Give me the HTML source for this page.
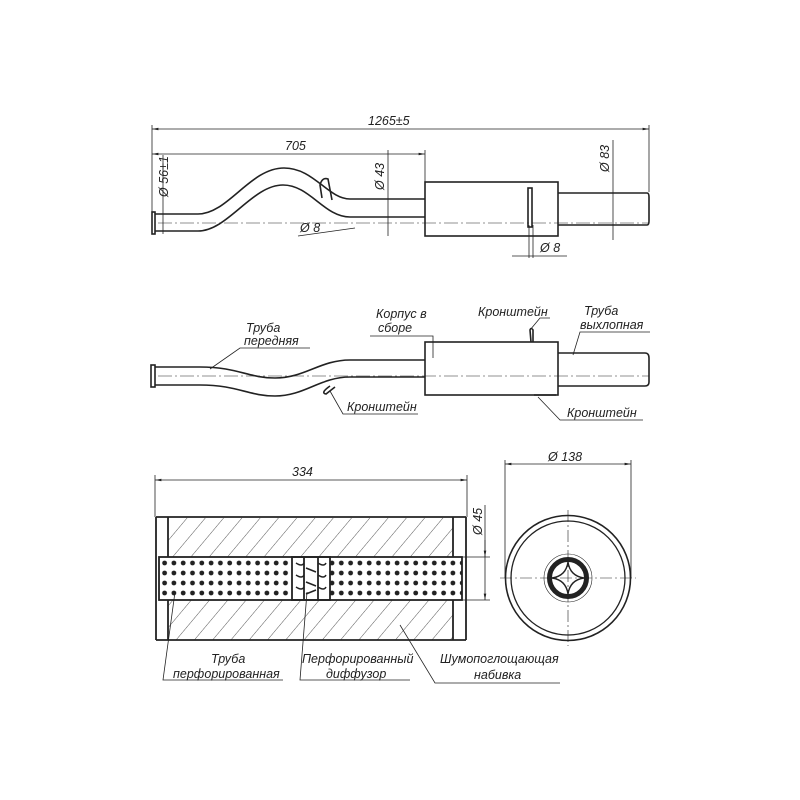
<!DOCTYPE html>
<html><head><meta charset="utf-8"><style>
html,body{margin:0;padding:0;background:#fff;}
svg{display:block;}
text{font-family:"Liberation Sans",sans-serif;font-style:italic;font-size:12.5px;fill:#222;}
</style></head><body>
<svg width="800" height="800" viewBox="0 0 800 800" xmlns="http://www.w3.org/2000/svg">
<defs>
<marker id="a" viewBox="0 0 10 10" refX="10" refY="5" markerWidth="8" markerHeight="8" orient="auto-start-reverse"><path d="M0,3 L10,5 L0,7 z" fill="#222"/></marker>
<pattern id="h" patternUnits="userSpaceOnUse" width="14" height="14" patternTransform="rotate(40)"><line x1="0" y1="0" x2="0" y2="14" stroke="#444" stroke-width="0.9"/></pattern>
<pattern id="d" patternUnits="userSpaceOnUse" x="160" y="558" width="9.3" height="10"><circle cx="4.6" cy="5" r="2.4" fill="#222"/></pattern>
</defs>
<g stroke="#222" fill="none" stroke-width="0.8">
<!-- TOP -->
<line x1="152" y1="125" x2="152" y2="212"/><line x1="649" y1="125" x2="649" y2="192"/>
<line x1="152" y1="129" x2="649" y2="129" marker-start="url(#a)" marker-end="url(#a)"/>
<line x1="425" y1="150" x2="425" y2="182"/>
<line x1="152" y1="154" x2="425" y2="154" marker-start="url(#a)" marker-end="url(#a)"/>
<line x1="163" y1="155" x2="163" y2="234"/>
<line x1="388" y1="150" x2="388" y2="236"/>
<line x1="613" y1="140" x2="613" y2="240"/>
<line x1="298" y1="236" x2="355" y2="228"/>
<line x1="512" y1="256" x2="567" y2="256"/><line x1="529" y1="225" x2="529" y2="258"/><line x1="533" y1="225" x2="533" y2="258"/>
<g stroke-width="1.6">
<path d="M155,214 L198,214 C228,214 250,168 284,168 C314,168 328,199 350,199 L425,199"/>
<path d="M155,231 L198,231 C228,231 252,185 283,185 C310,185 324,217 350,217 L425,217"/>
<rect x="152" y="212" width="3" height="22"/>
<rect x="425" y="182" width="133" height="54"/>
<path d="M558,193 L647,193 Q649,193 649,197 L649,221 Q649,225 647,225 L558,225"/>
<rect x="528" y="188" width="4" height="39"/>
<path d="M322,198 L320,185 Q322,177 328,179 L332,200"/>
</g>
<line x1="158" y1="223" x2="649" y2="223" stroke-dasharray="14,3,2,3" stroke-width="0.6"/>
<!-- MIDDLE -->
<g stroke-width="1.6">
<path d="M155,367 L200,367 C238,367 248,378 275,378 C305,378 320,360 350,360 L425,360"/>
<path d="M155,385 L200,385 C238,385 248,396 275,396 C305,396 320,377 350,377 L425,377"/>
<rect x="151" y="365" width="4" height="22"/>
<rect x="425" y="342" width="133" height="53"/>
<path d="M558,353 L645,353 Q649,353 649,358 L649,382 Q649,386 645,386 L558,386"/>
<path d="M531,342 L530,330 Q531,327 533,330 L533,342"/>
<path d="M330,386 Q320,393 326,394 L335,387"/>
<path d="M534,395 L556,395"/>
</g>
<line x1="158" y1="376" x2="649" y2="376" stroke-dasharray="14,3,2,3" stroke-width="0.6"/>
<path d="M210,369 L240,348 L310,348"/>
<path d="M433,358 L433,336 L370,336"/>
<path d="M530,330 L540,318 L550,318"/>
<path d="M573,355 L580,332 L650,332"/>
<path d="M330,391 L343,414 L418,414"/>
<path d="M538,397 L560,420 L643,420"/>
<!-- BOTTOM LEFT -->
<line x1="155" y1="475" x2="155" y2="517"/><line x1="467" y1="475" x2="467" y2="517"/>
<line x1="155" y1="480" x2="467" y2="480" marker-start="url(#a)" marker-end="url(#a)"/>
<rect x="168" y="518" width="285" height="39" fill="url(#h)" stroke="none"/>
<rect x="168" y="600" width="285" height="40" fill="url(#h)" stroke="none"/>
<rect x="160" y="557" width="302" height="43" fill="url(#d)" stroke="none"/>
<rect x="292" y="557" width="38" height="43" fill="#fff" stroke="none"/>
<g stroke-width="1.8">
<line x1="156" y1="517" x2="466" y2="517"/><line x1="156" y1="640" x2="466" y2="640"/>
<line x1="156" y1="517" x2="156" y2="640"/><line x1="466" y1="517" x2="466" y2="640"/>
<line x1="168" y1="517" x2="168" y2="557"/><line x1="168" y1="600" x2="168" y2="640"/>
<line x1="453" y1="517" x2="453" y2="557"/><line x1="453" y1="600" x2="453" y2="640"/>
<rect x="159" y="557" width="303" height="43"/>
<rect x="292" y="557" width="38" height="43"/>
<line x1="304" y1="557" x2="304" y2="600"/><line x1="318" y1="557" x2="318" y2="600"/>
</g>
<g stroke-width="1.5">
<path d="M296,563 q6,4 8,0 M318,563 q6,4 8,0 M296,575 q6,4 8,0 M318,575 q6,4 8,0 M296,587 q6,4 8,0 M318,587 q6,4 8,0 M306,568 l10,4 M306,582 l10,4 M306,594 l10,-4"/>
</g>
<line x1="462" y1="557" x2="490" y2="557"/><line x1="462" y1="600" x2="490" y2="600"/>
<line x1="485" y1="505" x2="485" y2="600" marker-end="url(#a)"/>
<line x1="485" y1="540" x2="485" y2="557" marker-end="url(#a)"/>
<path d="M175,592 L163,680 L283,680"/>
<path d="M307,592 L300,680 L410,680"/>
<path d="M400,625 L435,683 L560,683"/>
<!-- CIRCLE -->
<line x1="505" y1="460" x2="505" y2="578"/><line x1="631" y1="460" x2="631" y2="578"/>
<line x1="505" y1="464" x2="631" y2="464" marker-start="url(#a)" marker-end="url(#a)"/>
<circle cx="568" cy="578" r="62.5" stroke-width="1.6"/>
<circle cx="568" cy="578" r="57" stroke-width="1.3"/>
<circle cx="568" cy="578" r="24" stroke-width="0.6"/>
<circle cx="568" cy="578" r="18.5" stroke-width="5"/>
<path d="M568,562 Q570,576 584,578 Q570,580 568,594 Q566,580 552,578 Q566,576 568,562 z" stroke-width="1.4"/>
<line x1="500" y1="578" x2="636" y2="578" stroke-dasharray="12,3,2,3" stroke-width="0.6"/>
<line x1="568" y1="510" x2="568" y2="646" stroke-dasharray="12,3,2,3" stroke-width="0.6"/>
</g>
<!-- TEXT -->
<text x="368" y="125">1265±5</text>
<text x="285" y="150">705</text>
<text transform="translate(168,197) rotate(-90)">Ø 56±1</text>
<text transform="translate(384,190) rotate(-90)">Ø 43</text>
<text transform="translate(609,172) rotate(-90)">Ø 83</text>
<text x="300" y="232">Ø 8</text>
<text x="540" y="252">Ø 8</text>
<text x="246" y="332">Труба</text>
<text x="244" y="345">передняя</text>
<text x="376" y="318">Корпус в</text>
<text x="378" y="332">сборе</text>
<text x="478" y="316">Кронштейн</text>
<text x="584" y="315">Труба</text>
<text x="580" y="329">выхлопная</text>
<text x="347" y="411">Кронштейн</text>
<text x="567" y="417">Кронштейн</text>
<text x="292" y="476">334</text>
<text x="548" y="461">Ø 138</text>
<text transform="translate(482,535) rotate(-90)">Ø 45</text>
<text x="211" y="663">Труба</text>
<text x="173" y="678">перфорированная</text>
<text x="302" y="663">Перфорированный</text>
<text x="326" y="678">диффузор</text>
<text x="440" y="663">Шумопоглощающая</text>
<text x="474" y="679">набивка</text>
</svg>
</body></html>
